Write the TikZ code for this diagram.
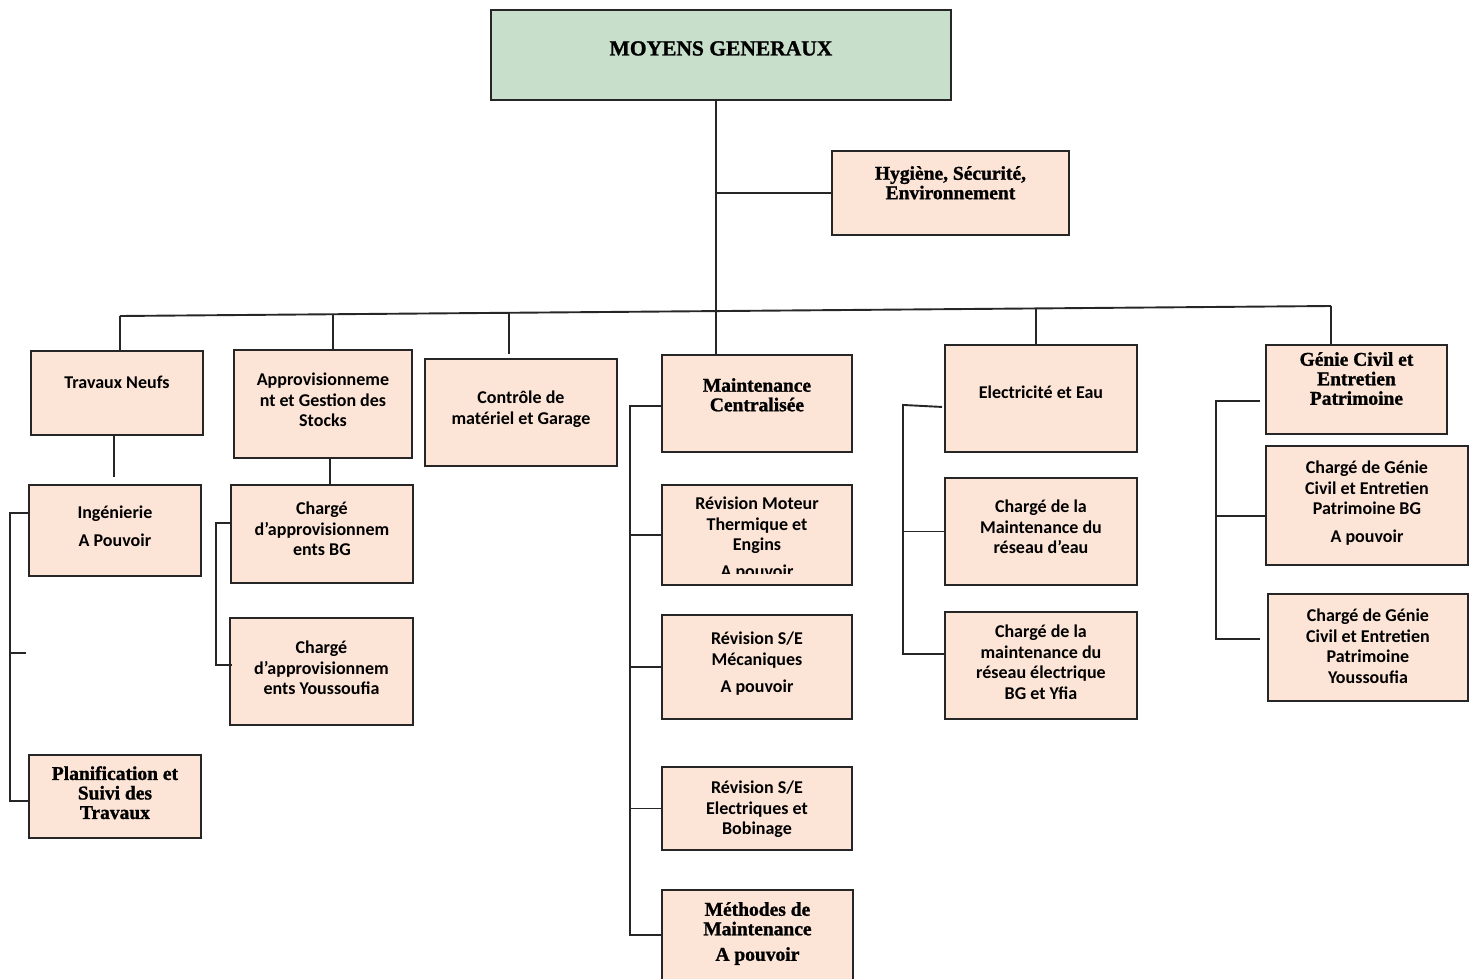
\documentclass[tikz,border=0pt]{standalone}
\usepackage{fontspec}
\usetikzlibrary{calc}
\newfontfamily\calfont{Carlito}
\newfontfamily\camfont{Liberation Serif}[BoldFeatures={FakeBold=1.2}]
\definecolor{peach}{HTML}{FCE4D6}
\definecolor{mint}{HTML}{C8E0CB}
\tikzset{
  box/.style={rectangle, draw=black!85, line width=1.9pt, fill=peach, anchor=north west},
  sanstxt/.style={font=\calfont\bfseries\fontsize{18}{20.5}\selectfont, align=center, inner sep=0pt},
  seriftxt/.style={font=\camfont\bfseries\fontsize{19.5}{19.5}\selectfont, align=center, inner sep=0pt},
  link/.style={line width=1.9pt, draw=black!85}
}

\begin{document}
\begin{tikzpicture}[x=1pt, y=-1pt]
    \useasboundingbox (0,0) rectangle (1474,979);

    % direction
    \node[box, fill=mint, minimum width=460pt, minimum height=90pt,
          label={[seriftxt, font=\camfont\bfseries\fontsize{21.5}{21.5}\selectfont, anchor=north, yshift=-32pt]north:{MOYENS GENERAUX}}] (mg) at (490,9) {};
    \node[box, minimum width=237pt, minimum height=84pt,
          label={[seriftxt, anchor=north, yshift=-16pt]north:{Hygiène, Sécurité,\\Environnement}}] (hse) at (831,150) {};

    % services
    \node[box, minimum width=172pt, minimum height=84pt,
          label={[sanstxt, anchor=north, yshift=-26pt]north:{Travaux Neufs}}] (neufs) at (30,350) {};
    \node[box, minimum width=178pt, minimum height=108pt,
          label={[sanstxt, anchor=north, yshift=-24pt]north:{Approvisionneme\\nt et Gestion des\\Stocks}}] (appro) at (233,349) {};
    \node[box, minimum width=192pt, minimum height=107pt,
          label={[sanstxt, anchor=north, yshift=-33pt]north:{Contrôle de\\matériel et Garage}}] (ctrl) at (424,358) {};
    \node[box, minimum width=190pt, minimum height=97pt,
          label={[seriftxt, anchor=north, yshift=-24pt]north:{Maintenance\\Centralisée}}] (mc) at (661,354) {};
    \node[box, minimum width=192pt, minimum height=107pt,
          label={[sanstxt, anchor=north, yshift=-42pt]north:{Electricité et Eau}}] (ee) at (944,344) {};
    \node[box, minimum width=181pt, minimum height=89pt,
          label={[seriftxt, anchor=north, yshift=-8pt]north:{Génie Civil et\\Entretien\\Patrimoine}}] (gc) at (1265,344) {};

    % travaux neufs
    \node[box, minimum width=172pt, minimum height=91pt,
          label={[sanstxt, anchor=north, yshift=-22pt]north:{Ingénierie\\[7pt]A Pouvoir}}] (inge) at (28,484) {};
    \node[box, minimum width=172pt, minimum height=83pt,
          label={[seriftxt, anchor=north, yshift=-12pt]north:{Planification et\\Suivi des\\Travaux}}] (plan) at (28,754) {};

    % approvisionnement
    \node[box, minimum width=182pt, minimum height=98pt,
          label={[sanstxt, anchor=north, yshift=-18pt]north:{Chargé\\d’approvisionnem\\ents BG}}] (cbg) at (230,484) {};
    \node[box, minimum width=183pt, minimum height=107pt,
          label={[sanstxt, anchor=north, yshift=-24pt]north:{Chargé\\d’approvisionnem\\ents Youssoufia}}] (cyo) at (229,617) {};

    % maintenance centralisee
    \node[box, minimum width=190pt, minimum height=100pt,
          label={[sanstxt, anchor=north, yshift=-13pt]north:{Révision Moteur\\Thermique et\\Engins}}] (rmt) at (661,484) {};
    \node[box, minimum width=190pt, minimum height=104pt,
          label={[sanstxt, anchor=north, yshift=-18pt]north:{Révision S/E\\Mécaniques\\[7pt]A pouvoir}}] (rsm) at (661,614) {};
    \node[box, minimum width=190pt, minimum height=83pt,
          label={[sanstxt, anchor=north, yshift=-15pt]north:{Révision S/E\\Electriques et\\Bobinage}}] (rse) at (661,766) {};
    \node[box, minimum width=191pt, minimum height=90pt,
          label={[seriftxt, anchor=north, yshift=-13pt]north:{Méthodes de\\Maintenance\\[6pt]A pouvoir}}] (meth) at (661,889) {};

    \begin{scope}
        \clip (rmt.north west) rectangle ($(rmt.south east)+(0,-12)$);
        \node[sanstxt, anchor=base] (rmtpv) at ($(rmt.north)+(0,93.5)$) {A pouvoir};
    \end{scope}

    % electricite et eau
    \node[box, minimum width=192pt, minimum height=107pt,
          label={[sanstxt, anchor=north, yshift=-23pt]north:{Chargé de la\\Maintenance du\\réseau d’eau}}] (cre) at (944,477) {};
    \node[box, minimum width=192pt, minimum height=107pt,
          label={[sanstxt, anchor=north, yshift=-14pt]north:{Chargé de la\\maintenance du\\réseau électrique\\BG et Yfia}}] (crel) at (944,611) {};

    % genie civil
    \node[box, minimum width=202pt, minimum height=119pt,
          label={[sanstxt, anchor=north, yshift=-16pt]north:{Chargé de Génie\\Civil et Entretien\\Patrimoine BG\\[7pt]A pouvoir}}] (cgb) at (1265,445) {};
    \node[box, minimum width=200pt, minimum height=107pt,
          label={[sanstxt, anchor=north, yshift=-16pt]north:{Chargé de Génie\\Civil et Entretien\\Patrimoine\\Youssoufia}}] (cgy) at (1267,593) {};

    % bus
    \coordinate (b1) at (120,316);
    \coordinate (b2) at (333,314.2);
    \coordinate (b3) at (509,312.8);
    \coordinate (b4) at (716,311.1);
    \coordinate (b5) at (1036,308.4);
    \coordinate (b6) at (1331,306);

    \draw[link] (b4 |- mg.south) -- (b4);
    \draw[link] (b4 |- hse.west) -- (hse.west);
    \draw[link] (b1) -- (b6);
    \draw[link] (b1) -- (b1 |- neufs.north);
    \draw[link] (b2) -- (b2 |- appro.north);
    \draw[link] (b3) -- ($(b3 |- ctrl.north)+(0,-4)$);
    \draw[link] (b4) -- (b4 |- mc.north);
    \draw[link] (b5) -- (b5 |- ee.north);
    \draw[link] (b6) -- (b6 |- gc.north);

    % sub links
    \draw[link] ($(neufs.south)+(-3,0)$) -- ($(neufs.south |- inge.north)+(-3,-7)$);
    \draw[link] ($(appro.south)+(7,0)$) -- ($(appro.south |- cbg.north)+(7,0)$);

    \draw[link] ($(inge.west)+(0,-17.5)$) -- ++(-18,0) |- ($(plan.west)+(0,4.5)$);
    \coordinate (tnstub) at (26,653);
    \draw[link] (tnstub) -- ++(-16,0);

    \draw[link] ($(cbg.west)+(2,-11)$) -- ++(-16,0) |- ($(cyo.west)+(3,-6.5)$);

    \draw[link] ($(mc.west)+(0,2.5)$) -- ++(-31,0) coordinate (mvert) |- (meth.west);
    \foreach \n in {rmt,rsm,rse}
        \draw[link] (\n.west) -- (\n.west -| mvert);

    \draw[link] ($(ee.west)+(-2,8.5)$) -- ($(ee.west)+(-41,6.5)$) coordinate (evert) |- ($(crel.west)+(0,-11.5)$);
    \draw[link] (cre.west) -- (cre.west -| evert);

    \draw[link] ($(gc.west)+(-5,11.5)$) -- ++(-44,0) coordinate (gvert) |- ($(cgy.west)+(-7,-8.5)$);
    \draw[link] ($(cgb.west)+(1,10.5)$) coordinate (gmid) -- (gmid -| gvert);
\end{tikzpicture}
\end{document}
